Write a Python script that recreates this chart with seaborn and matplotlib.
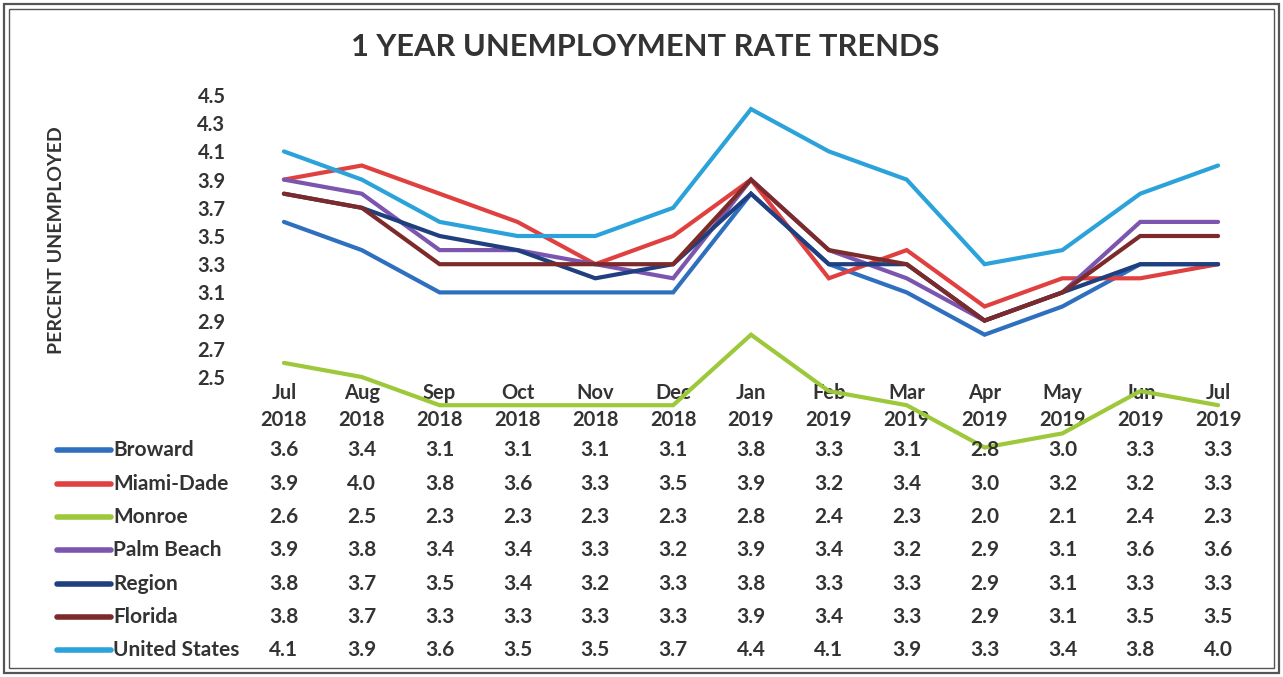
import matplotlib
matplotlib.use("Agg")
import matplotlib.pyplot as plt
from matplotlib.lines import Line2D
from matplotlib.patches import Rectangle
import seaborn as sns
import pandas as pd

months = ["Jul\n2018", "Aug\n2018", "Sep\n2018", "Oct\n2018", "Nov\n2018", "Dec\n2018",
          "Jan\n2019", "Feb\n2019", "Mar\n2019", "Apr\n2019", "May\n2019", "Jun\n2019", "Jul\n2019"]
series_names = ["Broward", "Miami-Dade", "Monroe", "Palm Beach", "Region", "Florida", "United States"]
broward = [3.6, 3.4, 3.1, 3.1, 3.1, 3.1, 3.8, 3.3, 3.1, 2.8, 3.0, 3.3, 3.3]
miami_dade = [3.9, 4.0, 3.8, 3.6, 3.3, 3.5, 3.9, 3.2, 3.4, 3.0, 3.2, 3.2, 3.3]
monroe = [2.6, 2.5, 2.3, 2.3, 2.3, 2.3, 2.8, 2.4, 2.3, 2.0, 2.1, 2.4, 2.3]
palm_beach = [3.9, 3.8, 3.4, 3.4, 3.3, 3.2, 3.9, 3.4, 3.2, 2.9, 3.1, 3.6, 3.6]
region = [3.8, 3.7, 3.5, 3.4, 3.2, 3.3, 3.8, 3.3, 3.3, 2.9, 3.1, 3.3, 3.3]
florida = [3.8, 3.7, 3.3, 3.3, 3.3, 3.3, 3.9, 3.4, 3.3, 2.9, 3.1, 3.5, 3.5]
united_states = [4.1, 3.9, 3.6, 3.5, 3.5, 3.7, 4.4, 4.1, 3.9, 3.3, 3.4, 3.8, 4.0]
y_ticks = [2.5, 2.7, 2.9, 3.1, 3.3, 3.5, 3.7, 3.9, 4.1, 4.3, 4.5]

colors = ["#2F6FBF", "#E0403F", "#9CC83A", "#7B55AE", "#1F3F7F", "#7D2A2A", "#2BA3DA"]
all_vals = [broward, miami_dade, monroe, palm_beach, region, florida, united_states]

rows = []
for name, vals in zip(series_names, all_vals):
    for i, v in enumerate(vals):
        rows.append({"series": name, "idx": i, "value": v})
df = pd.DataFrame(rows)

sns.set_theme(style="white")
plt.rcParams["font.family"] = ["Lato", "DejaVu Sans"]
TXT = "#333333"
FS = 15

W, H = 1283, 677
fig = plt.figure(figsize=(W / 100, H / 100), dpi=100)

def fx(px):
    return px / W

def fy(py):
    return 1 - py / H

left, right, top, bottom = 245, 1257, 95, 377
ax = fig.add_axes([fx(left), fy(bottom), fx(right - left), (bottom - top) / H])

sns.lineplot(data=df, x="idx", y="value", hue="series", hue_order=series_names,
             palette=colors, linewidth=3.0, ax=ax, legend=False, sort=False)
for ln in ax.get_lines():
    ln.set_clip_on(False)
    ln.set_solid_joinstyle("miter")

ax.set_xlim(-0.5, 12.5)
ax.set_ylim(2.5, 4.5)
ax.set_yticks(y_ticks)
ax.set_yticklabels([f"{t:.1f}" for t in y_ticks], fontsize=FS - 0.5, fontweight="bold", color=TXT)
ax.tick_params(axis="y", length=0, pad=14)
ax.set_xticks(range(len(months)))
ax.set_xticklabels(months, fontsize=FS - 0.5, fontweight="bold", color=TXT, linespacing=1.45)
ax.tick_params(axis="x", length=0, pad=4)
ax.set_xlabel("")
ax.set_ylabel("")
for s in ax.spines.values():
    s.set_visible(False)
ax.patch.set_alpha(0)

# title and y label
fig.text(fx(645), fy(47), "1 YEAR UNEMPLOYMENT RATE TRENDS", ha="center", va="center",
         fontsize=22.2, fontweight="bold", color=TXT)
fig.text(fx(57), fy(240), "PERCENT UNEMPLOYED", ha="center", va="center", rotation=90,
         fontsize=14, fontweight="bold", color=TXT)

# data table
row_y = [450, 484, 517, 550, 584, 617, 650]
for name, vals, col, ypx in zip(series_names, all_vals, colors, row_y):
    fig.add_artist(Line2D([fx(57), fx(111)], [fy(ypx), fy(ypx)], color=col, linewidth=4,
                          solid_capstyle="round"))
    fig.text(fx(113), fy(ypx), name, ha="left", va="center", fontsize=FS,
             fontweight="bold", color=TXT)
    for i, v in enumerate(vals):
        t = ax.text(i, 0, f"{v:.1f}", ha="center", va="center", fontsize=FS, fontweight="bold",
                    color=TXT, transform=ax.get_xaxis_transform(), clip_on=False)
        t.set_y((bottom - ypx) / (bottom - top))

# double border
for off, lw in [(4, 1.6), (9, 1.0)]:
    fig.add_artist(Rectangle((fx(off), fy(H - off)), fx(W - 2 * off), (H - 2 * off) / H,
                             fill=False, edgecolor="#555555", linewidth=lw,
                             transform=fig.transFigure))

fig.savefig("out.png", dpi=100, facecolor="white")
